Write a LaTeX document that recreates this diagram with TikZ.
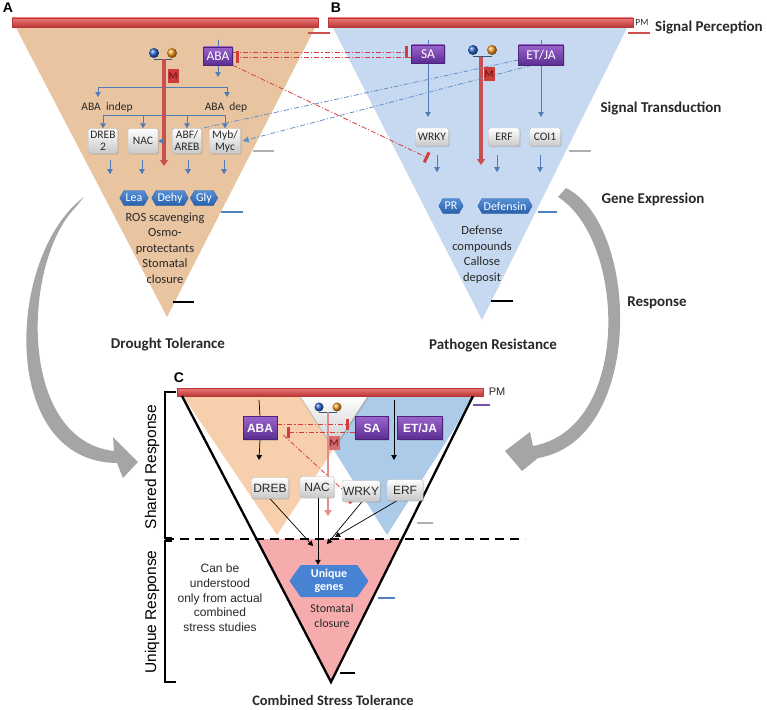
\documentclass[tikz,border=0pt]{standalone}
\usepackage{fontspec}
\setmainfont{Carlito}
\newfontfamily\arialf{Liberation Sans}
\usetikzlibrary{arrows.meta,shapes.symbols,shadows}
\pgfdeclarelayer{back}
\pgfdeclarelayer{bg}
\pgfsetlayers{back,bg,main}
\definecolor{tanA}{RGB}{233,196,160}
\definecolor{blueB}{RGB}{198,217,240}
\definecolor{tanC}{RGB}{248,207,172}
\definecolor{blueC}{RGB}{172,203,233}
\definecolor{greyC}{RGB}{186,189,196}
\definecolor{pinkC}{RGB}{246,172,172}
\definecolor{pmL}{RGB}{238,120,120}
\definecolor{pmD}{RGB}{185,55,55}
\definecolor{pmred}{RGB}{205,80,80}
\definecolor{bluel}{RGB}{80,125,185}
\definecolor{blueDD}{RGB}{100,145,200}
\definecolor{purT}{RGB}{155,100,205}
\definecolor{purB}{RGB}{90,45,145}
\definecolor{purD}{RGB}{75,35,120}
\definecolor{geneT}{RGB}{85,145,215}
\definecolor{geneB}{RGB}{40,95,170}
\definecolor{uniqB}{RGB}{72,130,210}
\definecolor{redd}{RGB}{215,60,60}
\definecolor{mred}{RGB}{200,80,80}
\definecolor{mpink}{RGB}{228,140,140}
\definecolor{mbox}{RGB}{205,60,60}
\definecolor{mtext}{RGB}{90,20,20}
\definecolor{arrowgrey}{RGB}{165,165,165}
\definecolor{boxbot}{RGB}{200,200,200}
\definecolor{boxedge}{RGB}{185,185,185}
\definecolor{txtc}{RGB}{40,40,40}
\definecolor{tickblue}{RGB}{80,130,195}
\definecolor{tickgrey}{RGB}{175,175,175}
\definecolor{tickpur}{RGB}{120,80,170}
\definecolor{ballblue}{RGB}{40,100,205}
\definecolor{ballorange}{RGB}{240,150,30}
\tikzset{
  bl/.style={draw=bluel, line width=0.9pt},
  bla/.style={bl, -{Triangle[width=5.5pt,length=5pt]}},
  blk/.style={draw=black, line width=0.7pt},
  blka/.style={blk, -{Triangle[width=5.5pt,length=5pt]}},
  marrow/.style={draw=mred, line width=3.2pt, -{Triangle[width=8pt,length=6pt]}},
  marrowC/.style={draw=mpink, line width=2.8pt, -{Triangle[width=7pt,length=6pt]}},
  redinh/.style={draw=redd, line width=0.8pt, dash pattern=on 5pt off 2pt on 1.2pt off 2pt, -{Bar[width=11pt,line width=3pt]}},
  bluedd/.style={draw=blueDD, line width=0.8pt, dash pattern=on 5pt off 2pt on 1.2pt off 2pt},
  bluedda/.style={bluedd, -{Triangle[width=6pt,length=6pt]}},
  pmbar/.style={top color=pmL, bottom color=pmD, draw=pmD, line width=0.4pt},
  tick/.style={line width=2.6pt},
  bigarrow/.style={fill=arrowgrey},
  greybox/.style={rectangle, rounded corners=1.5pt, top color=white, bottom color=boxbot, draw=boxedge, line width=0.4pt, align=center, inner sep=0.3pt, text=txtc, font=\fontsize{11.5}{12}\selectfont, drop shadow={opacity=0.3, shadow xshift=1pt, shadow yshift=-1.2pt}},
  greyC/.style={greybox, font=\arialf\fontsize{12}{12}\selectfont},
  purplebox/.style={rectangle, top color=purT, bottom color=purB, draw=purD, line width=0.5pt, text=white, inner sep=0.5pt, font=\fontsize{13.5}{14}\selectfont, drop shadow={opacity=0.3, shadow xshift=1pt, shadow yshift=-1.2pt}},
  purpleC/.style={purplebox, font=\arialf\bfseries\fontsize{12}{12}\selectfont},
  gene/.style={signal, signal to=west and east, signal pointer angle=120, top color=geneT, bottom color=geneB, draw=geneB, text=white, inner xsep=1.5pt, inner ysep=0.5pt, minimum height=15pt, font=\fontsize{12}{12}\selectfont},
  uniq/.style={signal, signal to=west and east, signal pointer angle=110, fill=uniqB, text=white, font=\bfseries\fontsize{12}{13.5}\selectfont, align=center, minimum width=79pt, minimum height=32pt, inner sep=1pt},
  mlab/.style={rectangle, fill=mbox, text=mtext, font=\fontsize{10.5}{10}\selectfont, inner sep=0.5pt, minimum width=11pt, minimum height=14pt},
  mlabC/.style={mlab, fill=mbox!75},
  ttl/.style={font=\bfseries\fontsize{15}{17}\selectfont, text=txtc},
  txt/.style={font=\fontsize{12.5}{15.5}\selectfont, text=txtc, align=center},
  panel/.style={font=\arialf\bfseries\fontsize{14}{14}\selectfont},
}
\begin{document}
\begin{tikzpicture}[x=1pt,y=-1pt]
\useasboundingbox (0,0) rectangle (767,709);

% ---------- background fills
\begin{pgfonlayer}{back}
\fill[tanA] (13,22) -- (318,22) -- (167,317) -- cycle;
\fill[blueB] (330,22) -- (630,22) -- (482,320) -- cycle;
\fill[tanC] (183,396) -- (368,396) -- (277,535) -- cycle;
\fill[blueC] (300,396) -- (475,396) -- (387,535) -- cycle;
\fill[greyC] (300,396) -- (368,396) -- (333.2,449) -- cycle;
\fill[pinkC] (256.5,539) -- (402,539) -- (331,682) -- cycle;
\end{pgfonlayer}

% ---------- big curved arrows (tapered bands)
\fill[bigarrow] (84,197) .. controls (6,255) and (-2,462) .. (117,463)
  -- (123,478) -- (138,462) -- (113,437) -- (114,451)
  .. controls (18,440) and (22,265) .. (74,209) -- cycle;
\fill[bigarrow] (566,188) .. controls (640,225) and (645,440) .. (538,458)
  -- (522,471) -- (505,451) -- (530,432) -- (533,446)
  .. controls (632,428) and (626,240) .. (558,197) -- cycle;

% ---------- membranes
\shade[pmbar] (12,18) rectangle (318,27);
\shade[pmbar] (328,18) rectangle (633,27);
\shade[pmbar] (177,388) rectangle (483,396);
\node[font=\fontsize{9.5}{10}\selectfont, text=txtc] at (642,22) {PM};
\node[font=\arialf\fontsize{11}{11}\selectfont, text=txtc] at (497,392) {PM};

% ---------- ticks
\draw[tick, pmred] (308,33) -- (330,33);
\draw[tick, pmred] (628,33) -- (650,33);
\draw[tick, tickgrey] (253,151) -- (274,151);
\draw[tick, tickgrey] (569,151) -- (591,151);
\draw[tick, tickblue] (221,212) -- (243,212);
\draw[tick, tickblue] (538,212) -- (557,212);
\draw[tick, black] (173,302) -- (194,302);
\draw[tick, black] (491,301) -- (513,301);
\draw[tick, tickpur] (473,405) -- (490,405);
\draw[tick, tickgrey] (417,523) -- (433,523);
\draw[tick, tickblue] (378,598) -- (395,598);
\draw[tick, black] (340,673) -- (355,673);

% ---------- labels
\node[panel] at (8,8) {A};
\node[panel] at (336,8) {B};
\node[panel] at (179,378) {C};
\node[ttl] at (709,27) {Signal Perception};
\node[ttl] at (661,108) {Signal Transduction};
\node[ttl] at (653,199) {Gene Expression};
\node[ttl] at (657,303) {Response};
\node[ttl] at (168,345) {Drought Tolerance};
\node[ttl] at (493,346) {Pathogen Resistance};
\node[ttl, font=\bfseries\fontsize{14.5}{16}\selectfont, anchor=base] at (333,705) {Combined Stress Tolerance};

% ================= Panel A
\node[purplebox, minimum width=29pt, minimum height=18pt] (abaA) at (218,56) {ABA};
\node[greybox, minimum width=29pt, minimum height=25pt] (dreb) at (103,141) {DREB\\2};
\node[greybox, minimum width=30pt, minimum height=25pt] (nacA) at (143,141) {NAC};
\node[greybox, minimum width=29pt, minimum height=25pt] (abf) at (187,141) {ABF/\\AREB};
\node[greybox, minimum width=31pt, minimum height=25pt] (myb) at (225,141) {Myb/\\Myc};
\node[gene] (lea) at (134,198) {Lea};
\node[gene] (dehy) at (170,198) {Dehy};
\node[gene] (gly) at (204,198) {Gly};
\node[txt, font=\fontsize{11.5}{13}\selectfont] at (107,107) {ABA\ \ indep};
\node[txt, font=\fontsize{11.5}{13}\selectfont] at (226,107) {ABA\ \ dep};
\node[txt] at (165,248) {ROS scavenging\\Osmo-\\protectants\\Stomatal\\closure};
\node[mlab] (mA) at (173,76) {M};
\shade[ball color=ballblue] (154,53) circle (5pt);
\shade[ball color=ballorange] (172,53) circle (5pt);

\coordinate (abaTopA) at (218,40);
\coordinate (abaArrA) at (218,77);
\coordinate (brL) at (98,87);
\coordinate (brR) at (227,87);
\coordinate (lvl2) at (0,115);
\coordinate (ballsA) at (164,59);
\coordinate (mEndA) at (164,166);
\coordinate (nacFeed) at (164,141);
\begin{pgfonlayer}{bg}
\draw[bl] (abaTopA) -- (abaA.north);
\draw[bla] (abaA.south) -- (abaArrA);
\draw[bl] (brL) -- (brR);
\draw[bla] (brL) -- ++(0,10);
\draw[bla] (brR) -- ++(0,10);
\draw[bl] (dreb.north |- lvl2) -- (myb.north |- lvl2);
\foreach \b in {dreb,nacA,abf,myb} \draw[bla] (\b.north |- lvl2) -- (\b.north);
\draw[bla] ([xshift=7pt,yshift=-6.5pt]dreb.south) -- ++(0,14);
\draw[bla] ([xshift=-1pt,yshift=-6.5pt]nacA.south) -- ++(0,14);
\draw[bla] ([xshift=1pt,yshift=-6.5pt]abf.south) -- ++(0,14);
\draw[bla] ([xshift=-1pt,yshift=-6.5pt]myb.south) -- ++(0,14);
\draw[draw=bluel!70!black, line width=0.8pt] (154,59) -- (172,59);
\draw[marrow] (ballsA) -- (mEndA);
\draw[bla] (nacFeed) -- (nacA.east);
\end{pgfonlayer}

% ================= Panel B
\node[purplebox, minimum width=33pt, minimum height=18pt] (sa) at (428,54) {SA};
\node[purplebox, minimum width=45pt, minimum height=20pt] (etja) at (541,55) {ET/JA};
\node[greybox, minimum width=33pt, minimum height=18pt] (wrky) at (432,137) {WRKY};
\node[greybox, minimum width=31pt, minimum height=18pt] (erf) at (504,137) {ERF};
\node[greybox, minimum width=31pt, minimum height=18pt] (coi) at (545,137) {COI1};
\node[gene] (pr) at (451,206) {PR};
\node[gene] (def) at (505,206) {Defensin};
\node[txt] at (482,254.5) {Defense\\compounds\\Callose\\deposit};
\node[mlab] (mB) at (489,74) {M};
\shade[ball color=ballblue] (473,50) circle (5pt);
\shade[ball color=ballorange] (492,50) circle (5pt);

\coordinate (saTop) at (428,40);
\coordinate (saArr) at (428,117);
\coordinate (etTop) at (541,40);
\coordinate (etArr) at (541,117);
\coordinate (ballsB) at (481,57);
\coordinate (mEndB) at (481,165);
\coordinate (inhB) at (428,158);
\begin{pgfonlayer}{bg}
\draw[bl] (saTop) -- (sa.north);
\draw[bla] (sa.south) -- (saArr);
\draw[bl] (etTop) -- (etja.north);
\draw[bla] (etja.south) -- (etArr);
\draw[bla] ([xshift=5pt,yshift=-9pt]wrky.south) -- ++(0,17);
\draw[bla] ([xshift=-7pt,yshift=-9pt]erf.south) -- ++(0,17);
\draw[bla] ([xshift=-5pt,yshift=-9pt]coi.south) -- ++(0,17);
\draw[draw=bluel!70!black, line width=0.8pt] (473,56) -- (492,56);
\draw[marrow] (ballsB) -- (mEndB);
% cross talk
\draw[bluedd] ([yshift=-5pt]etja.west) -- (abf.north east);
\draw[bluedda] ([xshift=-9pt]etja.south) -- ([xshift=2pt]myb.east);
\draw[redinh, shorten >=3pt] ([yshift=4pt]abaA.east) -- ([yshift=4pt]abaA.east -| sa.west);
\draw[redinh, shorten >=3.5pt] ([yshift=-3pt]sa.west) -- ([yshift=-3pt]sa.west -| abaA.east);
\draw[redinh] (abaA.south east) -- (inhB);
\end{pgfonlayer}

% ================= Panel C
\draw[line width=2.3pt] (182,396) -- (331,682) -- (473,396);
\draw[line width=2pt, dash pattern=on 9pt off 6pt] (165,539) -- (525,539);
\draw[line width=2pt] (176,392) -- (165,392) -- (165,538) -- (172,538);
\draw[line width=2pt] (172,541) -- (165,541) -- (165,682) -- (176,682);
\node[rotate=90, font=\arialf\fontsize{15.5}{15.5}\selectfont] at (152,467) {Shared Response};
\node[rotate=90, font=\arialf\fontsize{15.5}{15.5}\selectfont] at (152,612) {Unique Response};
\node[font=\arialf\fontsize{12}{14.7}\selectfont, text=txtc, align=center] at (220,598) {Can be\\understood\\only from actual\\combined\\stress studies};

\node[purpleC, minimum width=34pt, minimum height=23pt] (abaC) at (260,428) {ABA};
\node[purpleC, minimum width=33pt, minimum height=23pt] (saC) at (372,428) {SA};
\node[purpleC, minimum width=45pt, minimum height=23pt] (etjaC) at (420,428) {ET/JA};
\node[greyC, minimum width=37pt, minimum height=21pt] (drebC) at (270,488) {DREB};
\node[greyC, minimum width=34pt, minimum height=21pt] (nacC) at (317,487) {NAC};
\node[greyC, minimum width=38pt, minimum height=21pt] (wrkyC) at (361,491) {WRKY};
\node[greyC, minimum width=36pt, minimum height=21pt] (erfC) at (405,490) {ERF};
\node[uniq] (uniq) at (329,581) {Unique\\genes};
\node[txt, font=\fontsize{12}{15}\selectfont] at (332,616) {Stomatal\\closure};
\node[mlabC] (mC) at (334,443) {M};
\shade[ball color=ballblue] (319,407) circle (4.5pt);
\shade[ball color=ballorange] (337,407) circle (4.5pt);

\coordinate (abaTopC) at (259,400);
\coordinate (abaArrC) at (259,460);
\coordinate (sjTop) at (394,400);
\coordinate (sjArr) at (394,460);
\coordinate (ballsC) at (328,412);
\coordinate (mEndC) at (328,516);
\coordinate (inhC) at (354,500);
\coordinate (cvA) at (313,546);
\coordinate (cvB) at (327,544);
\coordinate (cvC) at (335,537);
\begin{pgfonlayer}{bg}
\draw[blk] (abaTopC) -- (abaC.north);
\draw[blka] (abaC.south) -- (abaArrC);
\draw[blka] (sjTop) -- (sjArr);
\draw[draw=bluel!70!black, line width=0.8pt] (319,412) -- (337,412);
\draw[marrowC] (ballsC) -- (mEndC);
\draw[redinh, shorten >=6pt] ([yshift=4pt]abaC.east) -- ([yshift=4pt]abaC.east -| saC.west);
\draw[redinh, shorten >=10pt] ([yshift=-4pt]saC.west) -- ([yshift=-4pt]saC.west -| abaC.east);
\draw[redinh] ([xshift=6pt,yshift=-7pt]abaC.east) -- (inhC);
\draw[blka] (drebC.south) -- (cvA);
\draw[blka] ([xshift=1pt]nacC.south) -- ([xshift=1pt]nacC.south |- uniq.north);
\draw[blka] ([xshift=1pt]wrkyC.south) -- (cvB);
\draw[blka] ([xshift=-8pt]erfC.south) -- (cvC);
\end{pgfonlayer}
\end{tikzpicture}
\end{document}
